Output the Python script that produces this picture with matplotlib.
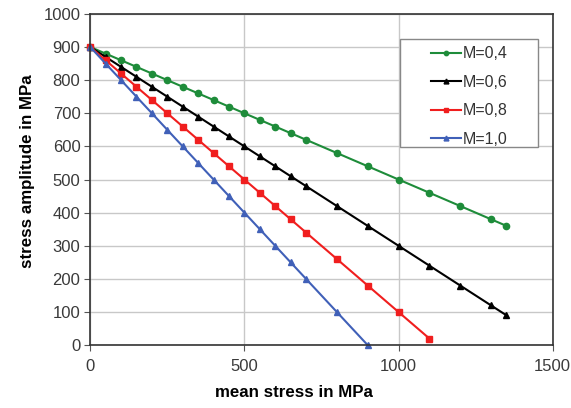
import matplotlib
matplotlib.use("Agg")
import matplotlib.pyplot as plt
from matplotlib.patches import Rectangle

plt.rcParams['font.family'] = ['Liberation Sans', 'DejaVu Sans']

# mean stress (MPa) and stress amplitude (MPa) for each curve
x_m04 = [0, 50, 100, 150, 200, 250, 300, 350, 400, 450, 500, 550, 600, 650, 700,
         800, 900, 1000, 1100, 1200, 1300, 1350]
y_m04 = [900, 880, 860, 840, 820, 800, 780, 760, 740, 720, 700, 680, 660, 640, 620,
         580, 540, 500, 460, 420, 380, 360]

x_m06 = [0, 50, 100, 150, 200, 250, 300, 350, 400, 450, 500, 550, 600, 650, 700,
         800, 900, 1000, 1100, 1200, 1300, 1350]
y_m06 = [900, 870, 840, 810, 780, 750, 720, 690, 660, 630, 600, 570, 540, 510, 480,
         420, 360, 300, 240, 180, 120, 90]

x_m08 = [0, 50, 100, 150, 200, 250, 300, 350, 400, 450, 500, 550, 600, 650, 700,
         800, 900, 1000, 1100]
y_m08 = [900, 860, 820, 780, 740, 700, 660, 620, 580, 540, 500, 460, 420, 380, 340,
         260, 180, 100, 20]

x_m10 = [0, 50, 100, 150, 200, 250, 300, 350, 400, 450, 500, 550, 600, 650, 700,
         800, 900]
y_m10 = [900, 850, 800, 750, 700, 650, 600, 550, 500, 450, 400, 350, 300, 250, 200,
         100, 0]

fig = plt.figure(figsize=(5.71, 4.08), dpi=100)
ax = fig.add_axes([0.158, 0.154, 0.81, 0.812])

ax.plot(x_m04, y_m04, color='#1e8c3a', marker='o', markersize=4.5, lw=1.5, label='M=0,4', clip_on=False)
ax.plot(x_m06, y_m06, color='black', marker='^', markersize=5, lw=1.5, label='M=0,6', clip_on=False)
ax.plot(x_m08, y_m08, color='#f01e1e', marker='s', markersize=5, lw=1.5, label='M=0,8', clip_on=False)
ax.plot(x_m10, y_m10, color='#4060b8', marker='^', markersize=5, lw=1.5, label='M=1,0', clip_on=False)

ax.set_xlim(0, 1500)
ax.set_ylim(0, 1000)
ax.set_xticks([0, 500, 1000, 1500])
ax.set_yticks(range(0, 1001, 100))
ax.grid(True, color='#c8c8c8', lw=1)
ax.set_axisbelow(True)
for s in ax.spines.values():
    s.set_color('#333333')
    s.set_linewidth(1.2)
ax.tick_params(direction='out', length=4, color='#555555', labelsize=12, labelcolor='#3a3a3a')
ax.tick_params(axis='x', pad=6)
ax.tick_params(axis='y', pad=3)

ax.set_xlabel('mean stress in MPa', fontsize=12.2, fontweight='bold', va='center', ha='center')
ax.xaxis.set_label_coords(0.44, -0.142)
ax.set_ylabel('stress amplitude in MPa', fontsize=12.2, fontweight='bold', va='center', ha='center')
ax.yaxis.set_label_coords(-0.136, 0.526)

# legend box drawn separately so it can be wider than the entries
ax.add_patch(Rectangle((0.6695, 0.598), 0.298, 0.3265, transform=ax.transAxes,
                       facecolor='white', edgecolor='#888888', lw=1, zorder=4))
leg = ax.legend(loc='upper left', bbox_to_anchor=(0.7365, 0.902), borderaxespad=0,
                borderpad=0, frameon=False, fontsize=11.5,
                handlelength=1.9, handletextpad=0.1, markerscale=0.7,
                labelspacing=0.85)
leg.set_zorder(5)
for t in leg.get_texts():
    t.set_color('#333333')

fig.savefig('out.png', dpi=100)
